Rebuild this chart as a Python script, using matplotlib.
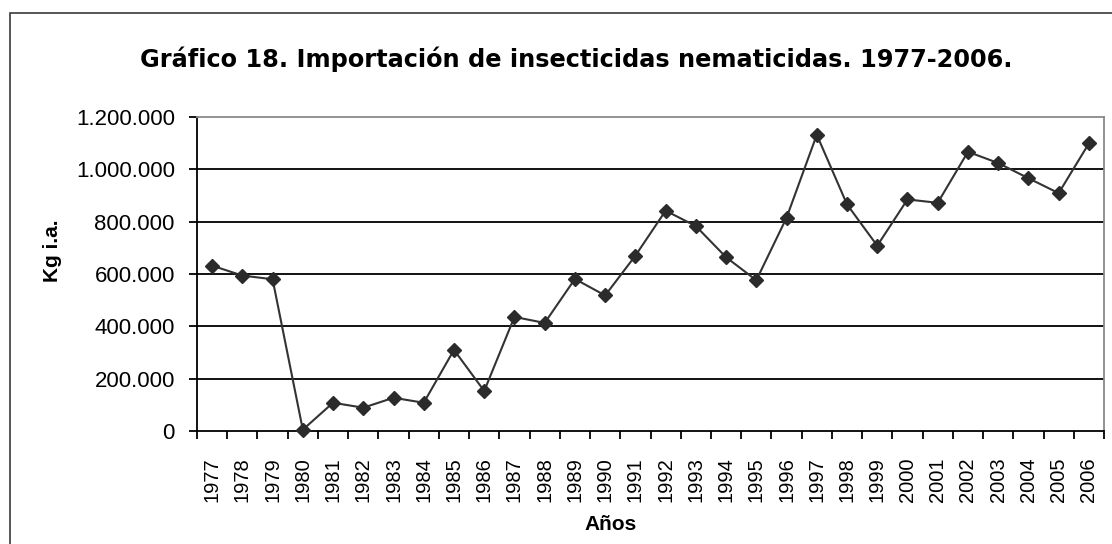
import matplotlib
matplotlib.use("Agg")
import matplotlib.pyplot as plt
from matplotlib.patches import Rectangle
from matplotlib.ticker import FuncFormatter

plt.rcParams['font.family'] = ['Liberation Sans', 'DejaVu Sans']

years = [str(y) for y in range(1977, 2007)]
values = [632000, 594000, 580000, 5000, 108000, 89000, 127000, 108000, 310000, 153000,
          436000, 413000, 581000, 518000, 670000, 842000, 783000, 664000, 576000, 815000,
          1132000, 866000, 708000, 885000, 872000, 1067000, 1024000, 966000, 909000, 1099000]
yticks = [0, 200000, 400000, 600000, 800000, 1000000, 1200000]

title = "Gráfico 18. Importación de insecticidas nematicidas. 1977-2006."
xlabel = "Años"
ylabel = "Kg i.a."

W, H = 1112, 544
fig = plt.figure(figsize=(W / 100, H / 100), dpi=100)
fig.patch.set_facecolor('white')

# chart area border (extends past right/bottom edges)
fig.patches.append(Rectangle((10 / W, -0.1), 1.2, 1 - 13 / H + 0.1, transform=fig.transFigure,
                             fill=False, edgecolor='#3a3a3a', linewidth=1.2, zorder=0))

ax = fig.add_axes([197 / W, 1 - 431 / H, (1104 - 197) / W, (431 - 117) / H])
x = list(range(len(years)))
ax.plot(x, values, color='#333333', linewidth=1.5, marker='D', markersize=7,
        markerfacecolor='#2b2b2b', markeredgecolor='#2b2b2b', zorder=3, clip_on=False)

ax.set_xlim(-0.5, len(years) - 0.5)
ax.set_ylim(0, 1200000)
ax.set_yticks(yticks)
ax.yaxis.set_major_formatter(FuncFormatter(lambda v, p: f"{int(v):,}".replace(",", ".")))
for v in yticks[1:-1]:
    ax.axhline(v, color='black', linewidth=1.3, zorder=1)

ax.set_xticks(x)
ax.set_xticklabels(years, rotation=90, fontsize=14.5)
ax.set_xticks([i - 0.5 for i in range(len(years) + 1)], minor=True)
ax.tick_params(axis='x', which='major', length=0, pad=19)
ax.tick_params(axis='x', which='minor', length=6, width=1.3, direction='out', color='black')
ax.tick_params(axis='y', length=6, width=1.3, direction='out', pad=10, labelsize=16)

for s in ['left', 'bottom']:
    ax.spines[s].set_color('black')
    ax.spines[s].set_linewidth(1.3)
for s in ['top', 'right']:
    ax.spines[s].set_color('#8a8a8a')
    ax.spines[s].set_linewidth(1.3)

fig.text(576 / W, 1 - 59 / H, title, ha='center', va='center', fontsize=17.3, fontweight='bold',
         family=['DejaVu Sans'])
fig.text(52 / W, 1 - 251 / H, ylabel, ha='center', va='center', rotation=90, fontsize=15,
         fontweight='bold')
fig.text(611 / W, 1 - 525 / H, xlabel, ha='center', va='center', fontsize=15, fontweight='bold')

fig.savefig("out.png", dpi=100)
